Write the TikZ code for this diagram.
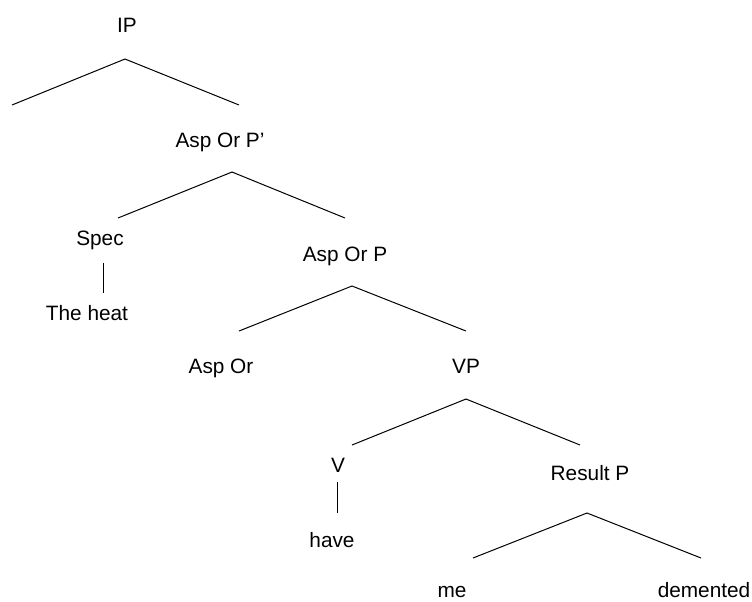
\documentclass[tikz,border=0pt]{standalone}
\usepackage{fontspec}
\setmainfont{Liberation Sans}
\begin{document}
\begin{tikzpicture}[x=0.75pt,y=-0.75pt,
  lab/.style={anchor=base,inner sep=0pt,font=\fontsize{15.6}{18}\selectfont},
  branch/.style={line width=0.75pt,black}]
\useasboundingbox (0,0) rectangle (752,601);
% labels
\node[lab] (ip) at (127,32) {IP};
\node[lab] (aspbar) at (220,147) {Asp Or P’};
\node[lab] (spec) at (100,245) {Spec};
\node[lab] (heat) at (87,320) {The heat};
\node[lab] (aspp) at (345,261) {Asp Or P};
\node[lab] (asp) at (221,373) {Asp Or};
\node[lab] (vp) at (466,373) {VP};
\node[lab] (v) at (338,472) {V};
\node[lab] (have) at (332,547) {have};
\node[lab] (res) at (590,480) {Result P};
\node[lab] (me) at (452,597) {me};
\node[lab] (dem) at (704,597) {demented};
% branch points
\coordinate (t1a) at (125,59);  \coordinate (t1l) at (12,105);  \coordinate (t1r) at (239,105);
\coordinate (t2a) at (232,172); \coordinate (t2l) at (118,218); \coordinate (t2r) at (345,218);
\coordinate (t3a) at (352,286); \coordinate (t3l) at (239,331); \coordinate (t3r) at (466,331);
\coordinate (t4a) at (466,399); \coordinate (t4l) at (352,445); \coordinate (t4r) at (580,445);
\coordinate (t5a) at (587,513); \coordinate (t5l) at (473,558); \coordinate (t5r) at (701,558);
\coordinate (s1t) at (103.5,263); \coordinate (s1b) at (103.5,293);
\coordinate (s2t) at (337.5,482); \coordinate (s2b) at (337.5,513);
% branches
\draw[branch] (t1l) -- (t1a) -- (t1r);
\draw[branch] (t2l) -- (t2a) -- (t2r);
\draw[branch] (t3l) -- (t3a) -- (t3r);
\draw[branch] (t4l) -- (t4a) -- (t4r);
\draw[branch] (t5l) -- (t5a) -- (t5r);
\draw[branch] (s1t) -- (s1b);
\draw[branch] (s2t) -- (s2b);
\end{tikzpicture}
\end{document}
